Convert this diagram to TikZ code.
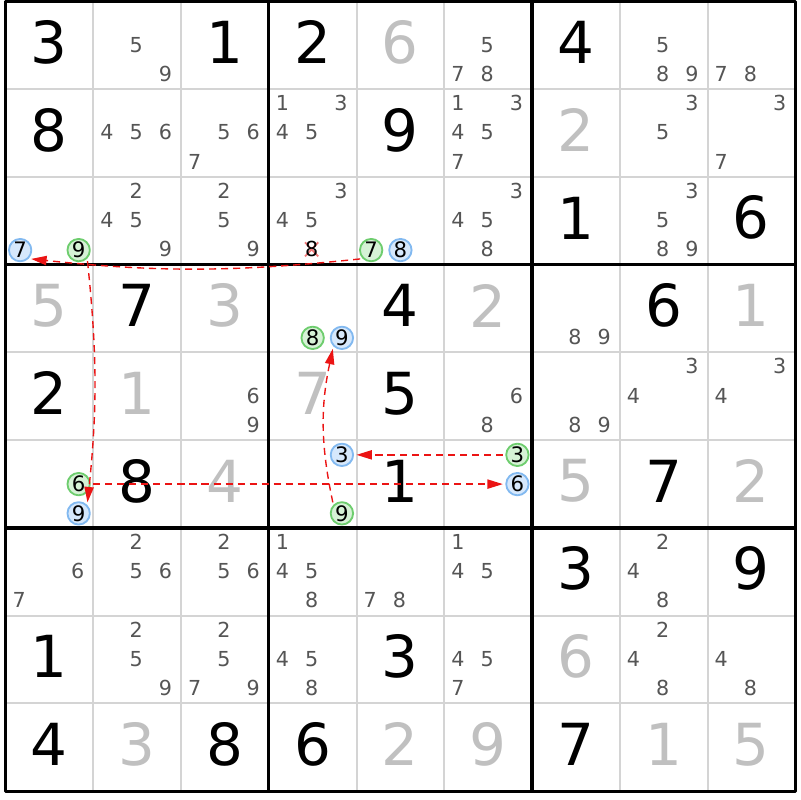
\documentclass[tikz,border=0pt]{standalone}
\usepackage{fontspec}
\setmainfont{DejaVu Sans}
\usetikzlibrary{arrows.meta}
\definecolor{solved}{RGB}{192,192,192}
\definecolor{candgray}{RGB}{85,85,85}
\definecolor{gridgray}{RGB}{212,212,212}
\definecolor{ongreen}{RGB}{110,205,110}
\definecolor{ongreenfill}{RGB}{214,242,214}
\definecolor{offblue}{RGB}{130,185,240}
\definecolor{offbluefill}{RGB}{214,232,252}
\definecolor{linkred}{RGB}{235,20,20}
\definecolor{strikepink}{RGB}{240,120,120}
\begin{document}
\begin{tikzpicture}[line join=round, >={Triangle[length=5pt,width=3pt]},
	bigdigit/.style={font=\fontsize{18.8}{20}\selectfont, inner sep=0pt},
	canddigit/.style={font=\fontsize{6.7}{7}\selectfont, text=candgray, inner sep=0pt},
	oncand/.style={circle, draw=ongreen, fill=ongreenfill, line width=.6pt, minimum size=.255cm, inner sep=0pt, font=\fontsize{6.9}{7}\selectfont},
	offcand/.style={oncand, draw=offblue, fill=offbluefill},
	link/.style={->, draw=linkred, line width=.45pt, dash pattern=on 2.3pt off 1.6pt, shorten <=.8pt, shorten >=.8pt}]
	\useasboundingbox (-.063,.017) rectangle (9.054,-9.1);
	% luoi
	\foreach \i in {1,2,4,5,7,8} {
		\draw[gridgray, line width=.65pt] (\i,0)--(\i,-9);
		\draw[gridgray, line width=.65pt] (0,-\i)--(9,-\i);
	}
	\foreach \i in {3,6} {
		\draw[line width=1.07pt] (\i,0)--(\i,-9);
		\draw[line width=1.07pt] (0,-\i)--(9,-\i);
	}
	\draw[line width=1.07pt] (0,0) rectangle (9,-9);
	% so cho truoc
	\foreach \r/\c/\d in {1/1/3,1/3/1,1/4/2,1/7/4, 2/1/8,2/5/9, 3/7/1,3/9/6, 4/2/7,4/5/4,4/8/6, 5/1/2,5/5/5, 6/2/8,6/5/1,6/8/7, 7/7/3,7/9/9, 8/1/1,8/5/3, 9/1/4,9/3/8,9/4/6,9/7/7}
		\node[bigdigit] (d\r\c) at ({\c-.5},{-\r+.534}) {\d};
	% so da giai
	\foreach \r/\c/\d in {1/5/6, 2/7/2, 4/1/5,4/3/3,4/6/2,4/9/1, 5/2/1,5/4/7, 6/3/4,6/7/5,6/9/2, 8/7/6, 9/2/3,9/5/2,9/6/9,9/8/1,9/9/5}
		\node[bigdigit, text=solved] (d\r\c) at ({\c-.5},{-\r+.534}) {\d};
	% ung vien
	\foreach \r/\c/\l in {1/2/{5,9}, 1/6/{5,7,8}, 1/8/{5,8,9}, 1/9/{7,8},
		2/2/{4,5,6}, 2/3/{5,6,7}, 2/4/{1,3,4,5}, 2/6/{1,3,4,5,7}, 2/8/{3,5}, 2/9/{3,7},
		3/2/{2,4,5,9}, 3/3/{2,5,9}, 3/4/{3,4,5}, 3/6/{3,4,5,8}, 3/8/{3,5,8,9},
		4/7/{8,9}, 5/3/{6,9}, 5/6/{6,8}, 5/7/{8,9}, 5/8/{3,4}, 5/9/{3,4},
		7/1/{6,7}, 7/2/{2,5,6}, 7/3/{2,5,6}, 7/4/{1,4,5,8}, 7/5/{7,8}, 7/6/{1,4,5}, 7/8/{2,4,8},
		8/2/{2,5,9}, 8/3/{2,5,7,9}, 8/4/{4,5,8}, 8/6/{4,5,7}, 8/8/{2,4,8}, 8/9/{4,8}}
		\foreach \n in \l
			\node[canddigit] (k\r\c\n) at ({\c-1+(mod(\n-1,3)+.5)/3-.012},{1-\r-(floor((\n-1)/3)+.5)/3+.008}) {\n};
	% ung vien bi loai
	\coordinate (x348) at (3.488,-2.825);
	\draw[strikepink, line width=.6pt] ([shift={(-.075,.08)}]x348)--([shift={(.075,-.08)}]x348)
		([shift={(.075,.08)}]x348)--([shift={(-.075,-.08)}]x348);
	\node[canddigit, text=black] (k348) at (x348) {8};
	% chuoi
	\foreach \r/\c/\n/\s in {3/1/7/offcand, 3/1/9/oncand, 3/5/7/oncand, 3/5/8/offcand, 4/4/8/oncand, 4/4/9/offcand,
		6/1/6/oncand, 6/1/9/offcand, 6/4/3/offcand, 6/4/9/oncand, 6/6/3/oncand, 6/6/6/offcand}
		\node[\s] (n\r\c\n) at ({\c-1+(mod(\n-1,3)+.5)/3},{1-\r-(floor((\n-1)/3)+.5)/3}) {\n};
	\draw[link] (n357.225) to[bend left=6] (n317.-45);
	\draw[link] (n319.-45) to[bend left=6] (n619.45);
	\draw[link] (n616)--(n666);
	\draw[link] (n663)--(n643);
	\draw[link] (n649.135) to[bend left=12] (n449.225);
\end{tikzpicture}
\end{document}
